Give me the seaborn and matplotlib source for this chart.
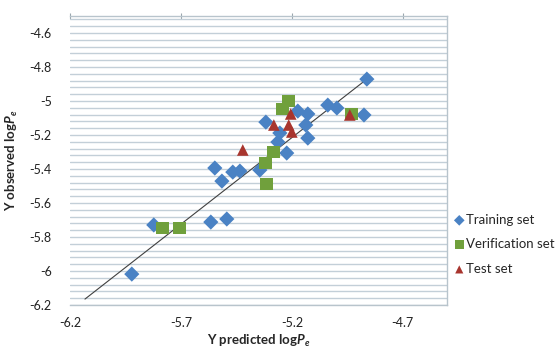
import pandas as pd
import matplotlib
matplotlib.use("Agg")
import matplotlib.pyplot as plt
import seaborn as sns
from matplotlib.ticker import MultipleLocator, FixedLocator, FixedFormatter

# data
train_x = [-4.862, -5.038, -4.997, -4.875, -5.173, -5.128, -5.137, -5.128, -5.223, -5.254, -5.317,
           -5.263, -5.344, -5.547, -5.515, -5.466, -5.434, -5.822, -5.921, -5.565, -5.493]
train_y = [-4.871, -5.024, -5.041, -5.082, -5.059, -5.076, -5.141, -5.218, -5.306, -5.188, -5.124,
           -5.241, -5.406, -5.394, -5.471, -5.418, -5.412, -5.729, -6.018, -5.712, -5.694]

verif_x = [-5.214, -5.241, -5.282, -5.320, -5.313, -5.781, -5.705, -4.930]
verif_y = [-5.000, -5.047, -5.300, -5.365, -5.488, -5.747, -5.747, -5.076]

test_x = [-5.205, -5.281, -5.214, -5.200, -5.421, -4.939]
test_y = [-5.076, -5.141, -5.141, -5.182, -5.288, -5.082]

line_x = [-6.132, -4.862]
line_y = [-6.165, -4.871]

x_ticks = [-6.2, -5.7, -5.2, -4.7]
x_labels = ['-6.2', '-5.7', '-5.2', '-4.7']
y_ticks = [-6.2, -6.0, -5.8, -5.6, -5.4, -5.2, -5.0, -4.8, -4.6]
y_labels = ['-6.2', '-6', '-5.8', '-5.6', '-5.4', '-5.2', '-5', '-4.8', '-4.6']

sns.set_style("white")
plt.rcParams['font.family'] = ['Lato', 'DejaVu Sans']
plt.rcParams['mathtext.fontset'] = 'custom'
plt.rcParams['mathtext.it'] = 'Lato:italic:bold'
plt.rcParams['mathtext.rm'] = 'Lato:bold'

fig = plt.figure(figsize=(5.59, 3.49), dpi=100)
ax = fig.add_axes([0.125, 0.126, 0.675, 0.828])

# regression line
sns.lineplot(x=line_x, y=line_y, ax=ax, color='#404040', linewidth=0.8, zorder=2)

groups = [
    ('Training set', train_x, train_y, 'D', '#4a82c4', 60),
    ('Verification set', verif_x, verif_y, 's', '#70a03c', 85),
    ('Test set', test_x, test_y, '^', '#a8352e', 70),
]
for name, xs, ys, mk, col, size in groups:
    df = pd.DataFrame({'x': xs, 'y': ys})
    sns.scatterplot(data=df, x='x', y='y', ax=ax, marker=mk, color=col, s=size,
                    edgecolor='none', label=name, zorder=3)

ax.set_xlim(-6.2, -4.5)
ax.set_ylim(-6.2, -4.5)
ax.xaxis.set_major_locator(FixedLocator(x_ticks))
ax.xaxis.set_major_formatter(FixedFormatter(x_labels))
ax.yaxis.set_major_locator(FixedLocator(y_ticks))
ax.yaxis.set_major_formatter(FixedFormatter(y_labels))
ax.yaxis.set_minor_locator(MultipleLocator(0.04))

ax.grid(False)
ax.yaxis.grid(True, which='both', color='#c3cfd8', linewidth=1.0)
ax.set_axisbelow(True)

for side in ['top', 'right', 'bottom']:
    ax.spines[side].set_color('#b8c4cc')
    ax.spines[side].set_linewidth(1.0)
ax.spines['left'].set_visible(False)

ax.tick_params(axis='y', which='both', length=0, pad=13, labelsize=9, labelcolor='#222222')
ax.tick_params(axis='x', which='both', bottom=False, top=True, labelbottom=True,
               direction='inout', length=5, color='#9aa6ae', pad=6, labelsize=9, labelcolor='#222222')

ax.set_xlabel('Y predicted log$P_e$', fontsize=9.5, fontweight='bold', labelpad=3)
ax.set_ylabel('Y observed log$P_e$', fontsize=9.5, fontweight='bold', labelpad=7)

ax.legend(loc='center left', bbox_to_anchor=(0.99, 0.21), frameon=False, fontsize=9.5,
          handletextpad=0.0, labelspacing=0.95, handlelength=1.0, markerscale=0.7,
          borderaxespad=0.3)

fig.savefig('out.png', dpi=100)
